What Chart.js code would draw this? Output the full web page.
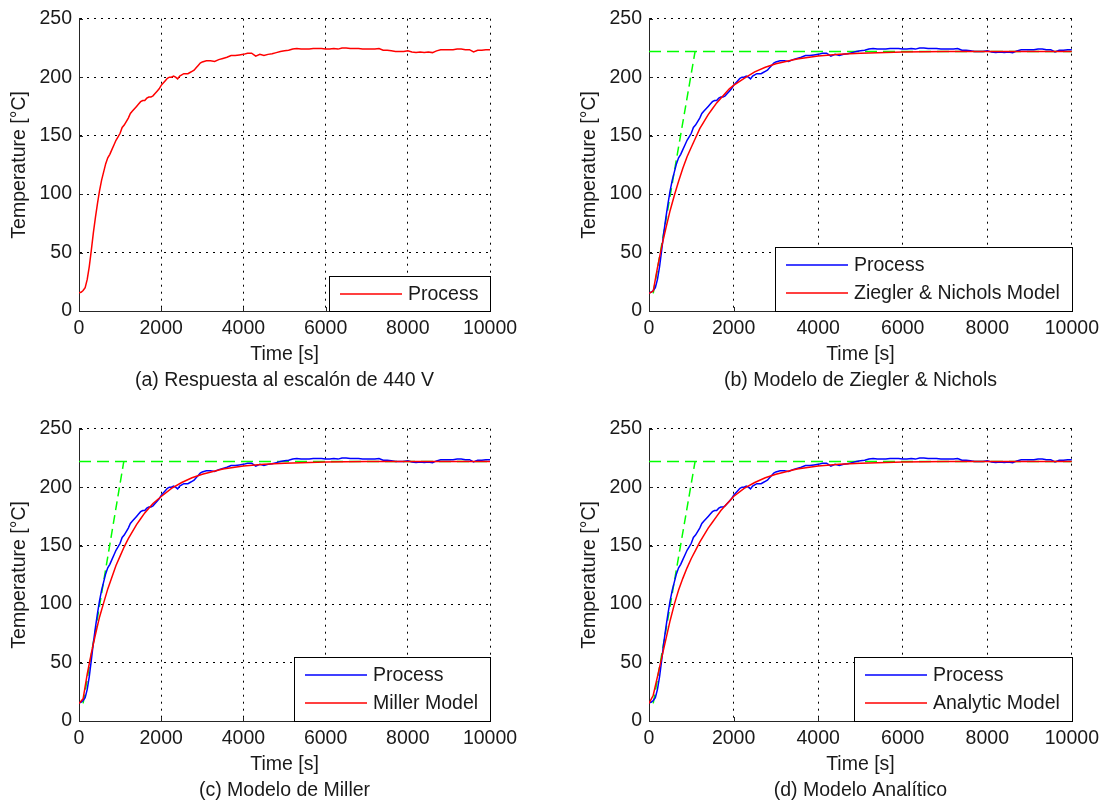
<!DOCTYPE html>
<html>
<head>
<meta charset="utf-8">
<title>Respuesta al escalón de 440 V</title>
<script src="https://cdn.jsdelivr.net/npm/chart.js@4.4.1/dist/chart.umd.min.js"></script>
<style>
  html, body { margin: 0; padding: 0; background: #fff; }
  body { width: 1105px; height: 805px; position: relative; overflow: hidden; }
  canvas { position: absolute; }
</style>
</head>
<body>
<canvas id="chartStep" width="560" height="396" style="left:0;top:0"></canvas>
<canvas id="chartZiegler" width="535" height="396" style="left:570px;top:0"></canvas>
<canvas id="chartMiller" width="560" height="396" style="left:0;top:410px"></canvas>
<canvas id="chartAnalytic" width="535" height="396" style="left:570px;top:410px"></canvas>
<script>
// measured process (step of 440 V)
const timeS = [
    0, 50, 100, 150, 200, 250, 300, 350, 400, 450,
    500, 550, 600, 650, 700, 750, 800, 850, 900, 950,
    1000, 1050, 1100, 1150, 1200, 1250, 1300, 1350, 1400, 1450,
    1500, 1550, 1600, 1650, 1700, 1750, 1800, 1850, 1900, 1950,
    2000, 2050, 2100, 2150, 2200, 2250, 2300, 2350, 2400, 2450,
    2500, 2550, 2600, 2650, 2700, 2750, 2800, 2850, 2900, 2950,
    3000, 3100, 3200, 3300, 3400, 3500, 3600, 3700, 3800, 3900,
    4000, 4100, 4200, 4300, 4400, 4500, 4600, 4700, 4800, 4900,
    5000, 5100, 5200, 5300, 5400, 5500, 5600, 5700, 5800, 5900,
    6000, 6100, 6200, 6300, 6400, 6500, 6600, 6700, 6800, 6900,
    7000, 7100, 7200, 7300, 7400, 7500, 7600, 7700, 7800, 7900,
    8000, 8100, 8200, 8300, 8400, 8500, 8600, 8700, 8800, 8900,
    9000, 9100, 9200, 9300, 9400, 9500, 9600, 9700, 9800, 9900,
    10000
];
const processC = [
    15.5, 16, 17.5, 20, 27, 38, 52, 67, 80, 92,
    103, 112, 119, 126, 131, 134, 138, 142, 146, 149,
    152, 157, 159, 162, 165, 169, 171, 173, 175, 177,
    179, 180, 180, 182, 183, 183, 184, 186, 188, 190,
    193, 195, 197, 199, 200, 200, 201, 200, 198.5, 201,
    202, 203, 203, 203, 204, 205, 206, 208, 210, 212,
    213, 214, 214, 213.5, 215, 216, 217, 218.5, 218.5, 219,
    219.5, 220.5, 220.5, 218, 219.5, 218.5, 219.5, 220, 221, 222,
    222.5, 223, 224, 224.5, 224, 224, 224, 224.5, 224.5, 224.5,
    224, 224, 224.5, 224, 225, 225, 224.5, 224.5, 224.5, 224,
    224, 224, 224, 224.5, 223, 223, 222.5, 222, 222, 222,
    222.5, 221.5, 221, 221.5, 221, 221.5, 221, 222.5, 223.5, 223.5,
    223.5, 223.5, 224, 224, 223.5, 223.5, 221.5, 223, 223, 223.5,
    223.5
];

// identified models
const modelTimeS = [
    0, 100, 200, 300, 400, 500, 600, 700, 800, 900,
    1000, 1100, 1200, 1300, 1400, 1500, 1600, 1700, 1800, 1900,
    2000, 2250, 2500, 2750, 3000, 3500, 4000, 4500, 5000, 6000,
    7000, 8000, 9000, 10000
];
const zieglerC = [
    15, 17, 37, 55, 71, 86, 99, 111, 122, 132,
    140, 148, 156, 162, 168, 173, 178, 182, 186, 190,
    193, 199, 204.5, 208.5, 211.5, 215.5, 218, 219.5, 220.5, 221.5,
    222, 222, 222, 222
];
const millerC = [
    15, 19, 40, 58, 74, 89, 101, 113, 123, 133,
    141, 149, 156, 162, 168, 173, 178, 182, 186, 189,
    192, 199, 204, 208, 211, 215.5, 218, 219.5, 220.5, 221.5,
    222, 222, 222, 222
];
const analyticC = [
    15, 22, 38, 54, 70, 86, 100, 112, 122, 131,
    139, 146, 153, 159, 165, 170, 175, 180, 184, 188,
    192, 199, 204, 208, 211, 215.5, 218, 219.5, 220.5, 221.5,
    222, 222, 222, 222
];

// tangent and final value (green dashed)
const tangentTimeS = [100, 1090];
const tangentC = [15, 222];
const steadyTimeS = [0, 10000];
const steadyC = [222, 222];

const timeTicks = [0, 2000, 4000, 6000, 8000, 10000];
const tempTicks = [0, 50, 100, 150, 200, 250];

const fontFamily = '"Liberation Sans", Arial, Helvetica, sans-serif';
const fontSize = 19.5;
const textColor = '#1a1a1a';
const axisColor = '#262626';
const lineW = 1.5;

function toPoints(xs, ys) {
    return xs.map((x, i) => ({ x: x, y: ys[i] }));
}

function lineSet(label, xs, ys, color, order) {
    return {
        label: label,
        data: toPoints(xs, ys),
        borderColor: color,
        backgroundColor: color,
        borderWidth: lineW,
        pointRadius: 0,
        fill: false,
        order: order
    };
}

function greenSets() {
    let tangent = lineSet('', tangentTimeS, tangentC, '#00ff00', 3);
    let steady = lineSet('', steadyTimeS, steadyC, '#00ff00', 3);
    tangent.borderDash = [9, 5];
    steady.borderDash = [12, 6];
    return [tangent, steady];
}

// short inward ticks on the left and bottom axes
const axisTicks = {
    id: 'axisTicks',
    afterDatasetsDraw(chart) {
        const { ctx, chartArea: a, scales: { x, y } } = chart;
        ctx.save();
        ctx.strokeStyle = axisColor;
        ctx.lineWidth = 1;
        ctx.beginPath();
        x.ticks.forEach(t => {
            let px = Math.round(x.getPixelForValue(t.value)) + 0.5;
            ctx.moveTo(px, a.bottom);
            ctx.lineTo(px, a.bottom - 4);
        });
        y.ticks.forEach(t => {
            let py = Math.round(y.getPixelForValue(t.value)) + 0.5;
            ctx.moveTo(a.left, py);
            ctx.lineTo(a.left + 4, py);
        });
        ctx.stroke();
        ctx.restore();
    }
};

// legend boxed in the lower right corner of the axes
const insideLegend = {
    id: 'insideLegend',
    afterDraw(chart) {
        const { ctx, chartArea: a } = chart;
        let items = chart.data.datasets.filter(d => d.label);
        ctx.save();
        ctx.font = fontSize + 'px ' + fontFamily;
        let textW = Math.max(...items.map(d => ctx.measureText(d.label).width));
        let w = Math.round(11 + 62 + 6 + textW + 12);
        let h = Math.round(35 + 28.5 * (items.length - 1));
        let left = Math.round(a.right - w);
        let top = Math.round(a.bottom - h);
        ctx.fillStyle = '#fff';
        ctx.fillRect(left, top, w, h);
        ctx.strokeStyle = '#000';
        ctx.lineWidth = 1;
        ctx.strokeRect(left + 0.5, top + 0.5, w, h);
        items.forEach((d, i) => {
            let cy = top + 18 + 28 * i;
            ctx.strokeStyle = d.borderColor;
            ctx.lineWidth = lineW;
            ctx.beginPath();
            ctx.moveTo(left + 11, cy);
            ctx.lineTo(left + 73, cy);
            ctx.stroke();
            ctx.fillStyle = textColor;
            ctx.textBaseline = 'middle';
            ctx.textAlign = 'left';
            ctx.fillText(d.label, left + 79, cy + 1);
        });
        ctx.restore();
    }
};

function makeChart(id, caption, datasets, padRight) {
    const font = { family: fontFamily, size: fontSize, weight: 'normal' };
    const grid = { color: '#000', lineWidth: 1, drawTicks: false };
    const border = { display: true, color: axisColor, width: 1, dash: [2, 5] };
    return new Chart(id, {
        type: 'line',
        data: { datasets: datasets },
        options: {
            responsive: false,
            animation: false,
            events: [],
            layout: { padding: { left: 0, top: 16, right: padRight, bottom: 0 } },
            plugins: {
                legend: { display: false },
                tooltip: { enabled: false },
                title: {
                    display: true,
                    position: 'bottom',
                    fullSize: false,
                    text: caption,
                    color: textColor,
                    font: font,
                    padding: { top: 3.3, bottom: 3.3 }
                }
            },
            scales: {
                x: {
                    type: 'linear',
                    min: 0,
                    max: 10000,
                    afterBuildTicks: s => { s.ticks = timeTicks.map(v => ({ value: v })); },
                    afterFit: s => { s.height = 55; },
                    ticks: { color: textColor, font: font, padding: 6, maxRotation: 0, autoSkip: false, callback: v => String(v) },
                    grid: grid,
                    border: border,
                    title: { display: true, text: 'Time [s]', color: textColor, font: font, padding: 0 }
                },
                y: {
                    min: 0,
                    max: 250,
                    afterBuildTicks: s => { s.ticks = tempTicks.map(v => ({ value: v })); },
                    afterFit: s => { s.width = 79; },
                    ticks: { color: textColor, font: font, padding: 7, callback: v => String(v) },
                    grid: grid,
                    border: border,
                    title: { display: true, text: 'Temperature [°C]', color: textColor, font: font, padding: { top: 8, bottom: 0 } }
                }
            }
        },
        plugins: [axisTicks, insideLegend]
    });
}

makeChart('chartStep', '(a) Respuesta al escalón de 440 V', [
    lineSet('Process', timeS, processC, '#ff0000', 1)
], 70);

makeChart('chartZiegler', '(b) Modelo de Ziegler & Nichols', [
    lineSet('Process', timeS, processC, '#0000ff', 2),
    lineSet('Ziegler & Nichols Model', modelTimeS, zieglerC, '#ff0000', 1)
].concat(greenSets()), 31);

makeChart('chartMiller', '(c) Modelo de Miller', [
    lineSet('Process', timeS, processC, '#0000ff', 2),
    lineSet('Miller Model', modelTimeS, millerC, '#ff0000', 1)
].concat(greenSets()), 70);

makeChart('chartAnalytic', '(d) Modelo Analítico', [
    lineSet('Process', timeS, processC, '#0000ff', 2),
    lineSet('Analytic Model', modelTimeS, analyticC, '#ff0000', 1)
].concat(greenSets()), 31);
</script>
</body>
</html>
